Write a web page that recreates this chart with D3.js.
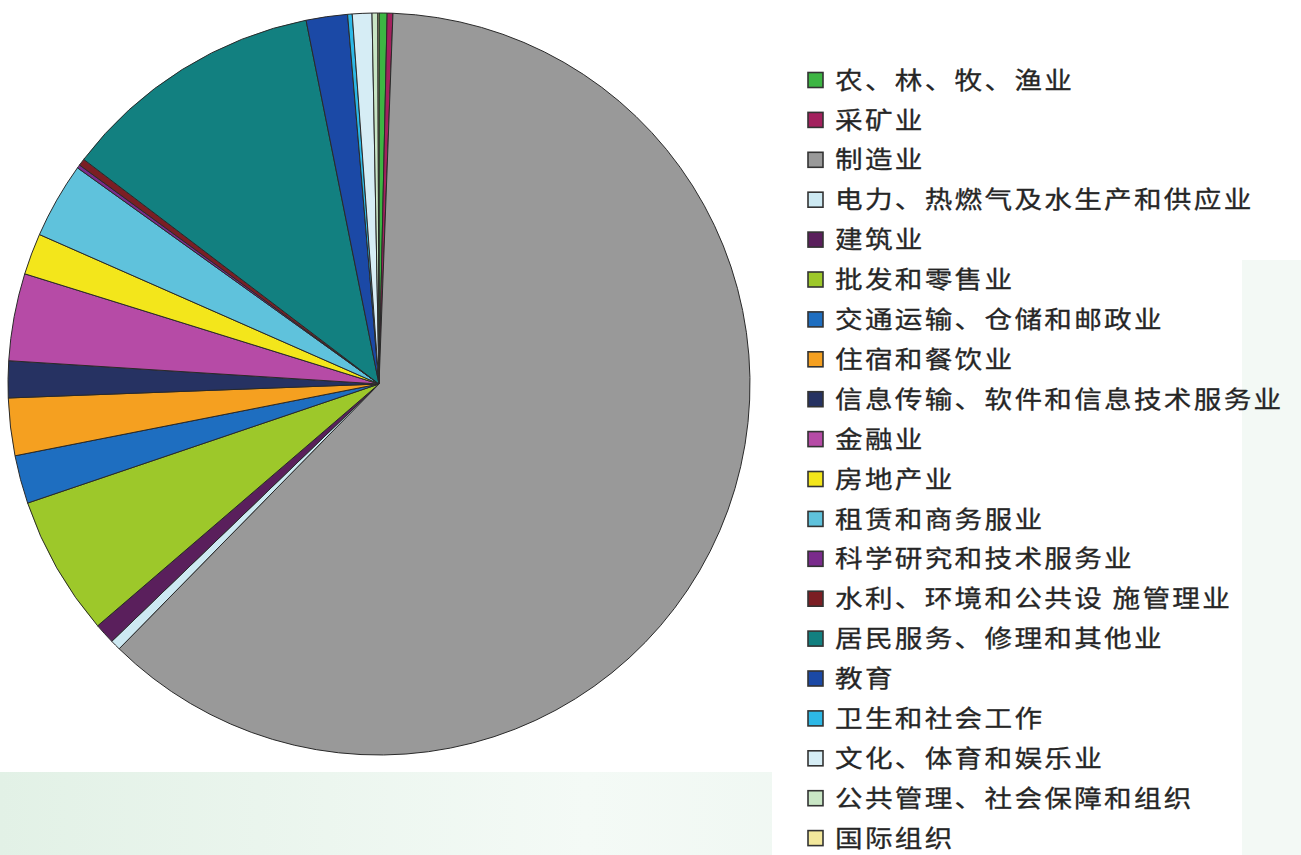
<!DOCTYPE html>
<html><head><meta charset="utf-8">
<script src="https://cdn.jsdelivr.net/npm/d3@7"></script>
<style>html,body{margin:0;padding:0;background:#fff;overflow:hidden}</style>
</head><body><svg id="c" width="1301" height="855"></svg>
<script>
const categories = ["农、林、牧、渔业","采矿业","制造业","电力、热燃气及水生产和供应业","建筑业","批发和零售业","交通运输、仓储和邮政业","住宿和餐饮业","信息传输、软件和信息技术服务业","金融业","房地产业","租赁和商务服业","科学研究和技术服务业","水利、环境和公共设 施管理业","居民服务、修理和其他业","教育","卫生和社会工作","文化、体育和娱乐业","公共管理、社会保障和组织","国际组织"];
const values = [0.35,0.25,61.75,0.45,0.9,6.1,2.1,2.5,1.6,3.8,1.8,3.3,0.15,0.3,11.5,1.8,0.2,0.85,0.25,0.05];
const colors = ["#3db543","#a3215e","#999999","#cde9f2","#5a1f5c","#9dc82a","#1e6ec0","#f5a020","#263262","#b64ba6","#f3e61b","#5fc2dc","#7a2b8c","#7b1e24","#128080","#1b49a6","#2db8e6","#d6edf5","#c9e6c5","#f3e89c"];

const svg = d3.select("#c");
const defs = svg.append("defs");
const g1 = defs.append("linearGradient").attr("id","bg").attr("x1",0).attr("y1",0).attr("x2",1).attr("y2",0);
g1.append("stop").attr("offset","0%").attr("stop-color","#e2f1e6");
g1.append("stop").attr("offset","45%").attr("stop-color","#f4faf6");
g1.append("stop").attr("offset","100%").attr("stop-color","#e6f2ea");
svg.append("rect").attr("width",1301).attr("height",855).attr("fill","url(#bg)");
svg.append("rect").attr("x",1242).attr("y",0).attr("width",59).attr("height",855).attr("fill","#f3f9f5");
svg.append("rect").attr("x",0).attr("y",0).attr("width",772).attr("height",772).attr("fill","#fff");
svg.append("rect").attr("x",772).attr("y",0).attr("width",470).attr("height",855).attr("fill","#fff");
svg.append("rect").attr("x",1242).attr("y",0).attr("width",59).attr("height",260).attr("fill","#fff");

const cx = 379, cy = 384, r = 371;
const pie = d3.pie().sort(null).value(d => d.v);
const arc = d3.arc().innerRadius(0).outerRadius(r);
const data = categories.map((c,i)=>({c, v: values[i], col: colors[i]}));
svg.append("g").attr("transform",`translate(${cx},${cy})`)
  .selectAll("path").data(pie(data)).join("path")
  .attr("d", arc).attr("fill", d => d.data.col)
  .attr("stroke","#2a2a2a").attr("stroke-width",1).attr("stroke-linejoin","round");

const leg = svg.append("g");
const y0 = 80, dy = 39.9;
const rows = leg.selectAll("g").data(data).join("g")
  .attr("transform",(d,i)=>`translate(808,${y0 + i*dy})`);
rows.append("rect").attr("x",0).attr("y",-7.5).attr("width",15).attr("height",15)
  .attr("fill",d=>d.col).attr("stroke","#333").attr("stroke-width",1.6);
rows.append("text").attr("transform","translate(27,0) scale(1.15,1)")
  .attr("dy","0.36em").attr("font-family","'Noto Sans CJK SC','Noto Sans',sans-serif")
  .attr("font-size",24).attr("letter-spacing","2px").attr("fill","#262626")
  .attr("stroke","#262626").attr("stroke-width",0.3)
  .text(d=>d.c);
</script></body></html>
